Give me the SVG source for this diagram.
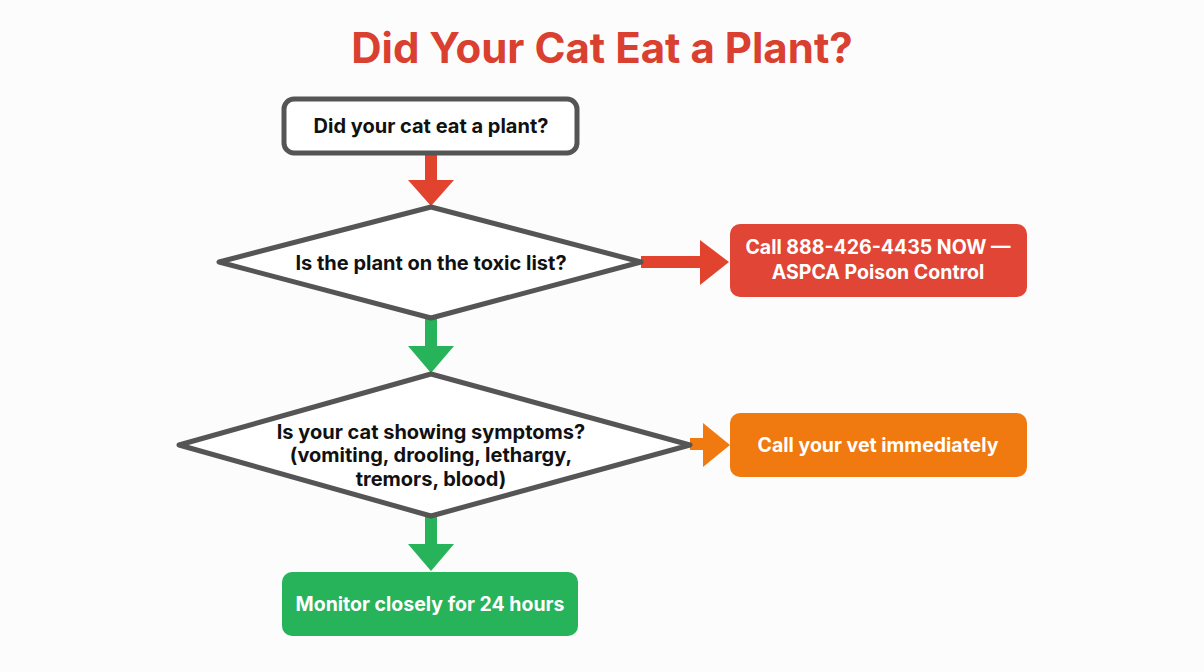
<svg xmlns="http://www.w3.org/2000/svg" width="1204" height="672" viewBox="0 0 1204 672">
<style>
text{font-family:Inter,"Liberation Sans",sans-serif;font-weight:700;text-anchor:middle}
.t{font-size:20px;fill:#111}
.w{font-size:19.5px;fill:#fff}
.shape{fill:#fff;stroke:#555;stroke-width:5;stroke-linejoin:round}
</style>
<rect width="1204" height="672" fill="#fcfcfc"/>
<text x="602" y="63" font-size="42" fill="#d9402f">Did Your Cat Eat a Plant?</text>
<g id="connectors">
<g fill="#e2432f">
<rect x="425" y="153" width="12" height="29"/>
<polygon points="408,180 454,180 431,206"/>
<rect x="641" y="256" width="62" height="12"/>
<polygon points="700,240 700,285 729,262"/>
</g>
<g fill="#27b35a">
<rect x="425" y="318" width="12" height="30"/>
<polygon points="408,346 454,346 431,373"/>
<rect x="425" y="516" width="12" height="30"/>
<polygon points="408,544 454,544 431,571"/>
</g>
<g fill="#f07a10">
<rect x="690" y="438" width="16" height="12"/>
<polygon points="703,423 703,467 730,445"/>
</g>
</g>
<g id="start">
<rect class="shape" x="284" y="99" width="293" height="54" rx="10"/>
<text class="t" x="431" y="133">Did your cat eat a plant?</text>
</g>
<g id="toxic">
<polygon class="shape" points="431,207 641,262 431,318 219,262"/>
<text class="t" x="431" y="270">Is the plant on the toxic list?</text>
</g>
<g id="poison">
<rect x="730" y="224" width="297" height="73" rx="10" fill="#e04535"/>
<text class="w" x="878" y="254">Call 888-426-4435 NOW —</text>
<text class="w" x="878" y="279">ASPCA Poison Control</text>
</g>
<g id="symptoms">
<polygon class="shape" points="431,374 690,445 431,516 179,445"/>
<text class="t" x="431" y="439">Is your cat showing symptoms?</text>
<text class="t" x="431" y="462">(vomiting, drooling, lethargy,</text>
<text class="t" x="431" y="486">tremors, blood)</text>
</g>
<g id="vet">
<rect x="730" y="413" width="297" height="64" rx="10" fill="#f07a10"/>
<text class="w" x="878" y="452">Call your vet immediately</text>
</g>
<g id="monitor">
<rect x="282" y="572" width="296" height="64" rx="10" fill="#27b35a"/>
<text class="w" x="430" y="611">Monitor closely for 24 hours</text>
</g>
</svg>
